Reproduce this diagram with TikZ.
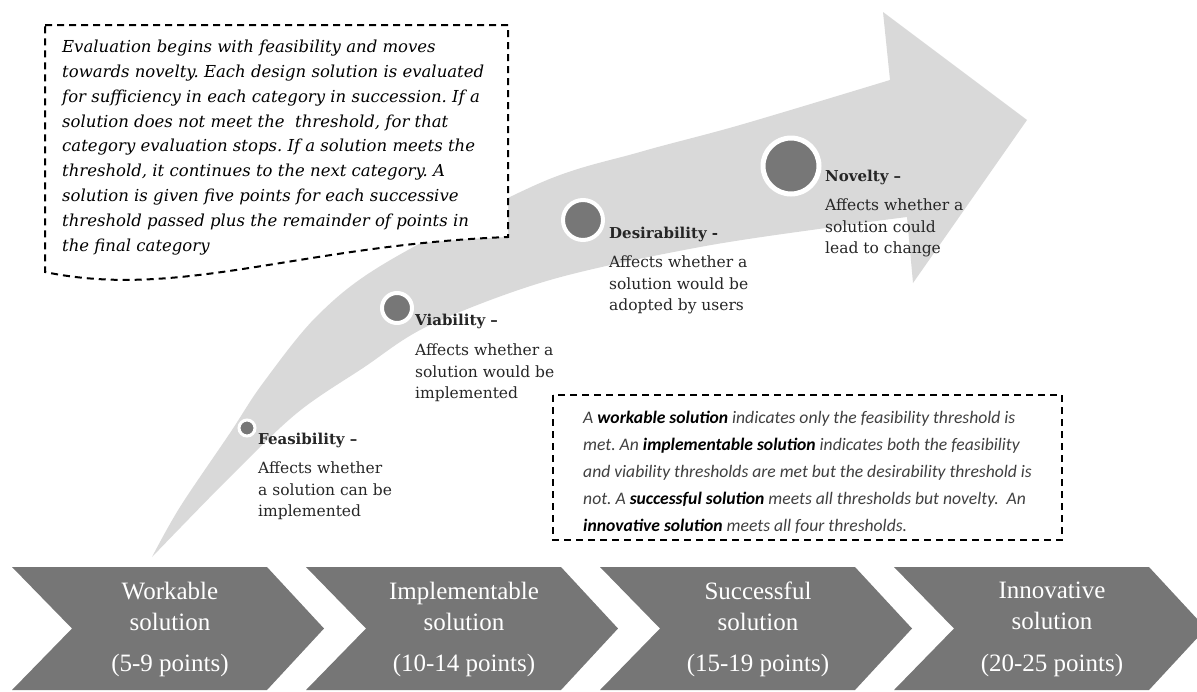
\documentclass[tikz,border=0pt]{standalone}
\usepackage{fontspec}
\setmainfont{DejaVu Serif}
\newfontfamily\chevfont{Liberation Serif}
\newfontfamily\notefont{Carlito}
\frenchspacing
\definecolor{arrowgray}{HTML}{D9D9D9}
\definecolor{chevgray}{HTML}{767676}
\definecolor{dotgray}{HTML}{777777}
\definecolor{labelink}{HTML}{262626}
\definecolor{noteink}{HTML}{404040}
\tikzset{
  dashbox/.style={draw=black, line width=2pt, dash pattern=on 7pt off 5pt, fill=white},
  stagedot/.style={circle, fill=dotgray, draw=white, inner sep=0pt},
  headlabel/.style={anchor=west, inner sep=0pt, text=labelink, font=\fontsize{15}{21}\selectfont\bfseries},
  desclabel/.style={anchor=north west, inner sep=0pt, align=left, text=labelink, font=\fontsize{15.5}{21.5}\selectfont},
  chevron/.style={fill=chevgray},
  chevtitle/.style={text=white, align=center, inner sep=0pt, font=\chevfont\fontsize{25}{31}\selectfont},
}
\begin{document}
\begin{tikzpicture}[x=1pt, y=-1pt]
\useasboundingbox (0,0) rectangle (1197,691);

% curved progress arrow
\fill[arrowgray] (152,557)
  -- plot[smooth, tension=0.55] coordinates {(152,557) (180,507) (230,433) (263,383) (318,315) (387,262) (540,183) (640,152) (740,125) (890,80)}
  -- (883,12) -- (1027,120) -- (913,283) -- (907,217)
  -- plot[smooth, tension=0.55] coordinates {(907,217) (840,226) (700,247) (550,280) (430,325) (363,368) (297,413) (230,477) (152,557)}
  -- cycle;

% explanatory note, top left (document-shaped box)
\path[dashbox] (45,25) -- (508,25) -- (508,237)
  .. controls (300,245) and (180,300) .. (45,272) -- cycle;
\node[anchor=north west, inner sep=0pt, align=left, text=black,
      font=\itshape\fontsize{16.5}{24.8}\selectfont] (evalnote) at (62,40)
  {Evaluation begins with feasibility and moves\\
   towards novelty. Each design solution is evaluated\\
   for sufficiency in each category in succession. If a\\
   solution does not meet the\ \ threshold, for that\\
   category evaluation stops. If a solution meets the\\
   threshold, it continues to the next category. A\\
   solution is given five points for each successive\\
   threshold passed plus the remainder of points in\\
   the final category};

% stage markers on the arrow
\node[stagedot, minimum size=16pt, line width=3pt] (feas) at (247,428) {};
\node[stagedot, minimum size=30pt, line width=4pt] (viab) at (397,308) {};
\node[stagedot, minimum size=40pt, line width=4pt] (desi) at (583,220) {};
\node[stagedot, minimum size=56pt, line width=5pt] (nove) at (791,166) {};

% stage labels
\node[headlabel] (feashead) at (258,440) {Feasibility –};
\node[desclabel] (feasdesc) at (258,462) {Affects whether\\a solution can be\\implemented};
\node[headlabel] (viabhead) at (415,321) {Viability –};
\node[desclabel] (viabdesc) at (415,344) {Affects whether a\\solution would be\\implemented};
\node[headlabel] (desihead) at (609,234) {Desirability -};
\node[desclabel] (desidesc) at (609,256) {Affects whether a\\solution would be\\adopted by users};
\node[headlabel] (novehead) at (825,177) {Novelty –};
\node[desclabel] (novedesc) at (825,199) {Affects whether a\\solution could\\lead to change};

% definitions of the solution levels
\draw[dashbox] (553,395) rectangle (1062,540);
\node[anchor=north west, inner sep=0pt, align=left, text=noteink,
      font=\notefont\itshape\fontsize{17.6}{27}\selectfont] (levelnote) at (583,411)
  {A \textbf{\color{black}workable solution} indicates only the feasibility threshold is\\
   met. An \textbf{\color{black}implementable solution} indicates both the feasibility\\
   and viability thresholds are met but the desirability threshold is\\
   not. A \textbf{\color{black}successful solution} meets all thresholds but novelty.\ \ An\\
   \textbf{\color{black}innovative solution} meets all four thresholds.};

% chevrons with the point ranges
\foreach \x/\name/\ttl/\pts in {12/work/Workable/5-9, 306/impl/Implementable/10-14,
                                600/succ/Successful/15-19, 894/inno/Innovative/20-25}{
  \fill[chevron] (\x,567) -- (\x+255,567) -- (\x+312,628.5) -- (\x+255,690)
                 -- (\x,690) -- (\x+60,628.5) -- cycle;
  \node[chevtitle] (\name title) at (\x+158,606) {\ttl\\solution};
  \node[chevtitle] (\name points) at (\x+158,665) {(\pts\ points)};
}
\end{tikzpicture}
\end{document}
